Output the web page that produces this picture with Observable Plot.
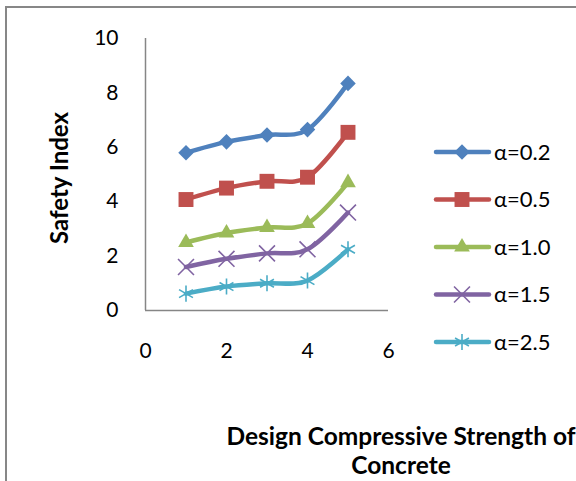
<!DOCTYPE html>
<html><head><meta charset="utf-8">
<script src="https://cdn.jsdelivr.net/npm/d3@7"></script>
<script src="https://cdn.jsdelivr.net/npm/@observablehq/plot@0.6"></script>
<style>
body{margin:0;background:#fff}
#chart{position:relative;width:576px;height:481px;overflow:hidden}
#chart svg [aria-label^="x-axis"], #chart svg [aria-label^="y-axis"],
#chart svg [aria-label^="x-axis"] text, #chart svg [aria-label^="y-axis"] text {font-size:21px !important; fill:#000}
</style>
</head><body><div id="chart"></div>
<script>
// ---- data ----
const xs = [1, 2, 3, 4, 5];
const seriesNames = ["α=0.2", "α=0.5", "α=1.0", "α=1.5", "α=2.5"];
const alpha02 = [5.8, 6.2, 6.45, 6.65, 8.35];
const alpha05 = [4.08, 4.5, 4.75, 4.9, 6.55];
const alpha10 = [2.5, 2.85, 3.05, 3.2, 4.7];
const alpha15 = [1.6, 1.9, 2.1, 2.25, 3.6];
const alpha25 = [0.62, 0.88, 1.0, 1.1, 2.25];
const xTicks = [0, 2, 4, 6];
const yTicks = [0, 2, 4, 6, 8, 10];
const xTitle = ["Design Compressive Strength of", "Concrete"];
const yTitle = "Safety Index";

// ---- styles ----
const colors = ["#4F81BD", "#C0504D", "#9BBB59", "#8064A2", "#4BACC6"];
const symbolNames = ["diamond2", "square2", "triangle2", "times", "asterisk"];
const d3Symbols = [d3.symbolDiamond2, d3.symbolSquare2, d3.symbolTriangle2, d3.symbolTimes, d3.symbolAsterisk];
const radii = [7, 9.5, 7.5, 7.3, 7.6];
const filled = [true, true, true, false, false];
const FONT = "Lato, 'Liberation Sans', sans-serif";

const allSeries = [alpha02, alpha05, alpha10, alpha15, alpha25];
const data = [];
allSeries.forEach((vals, i) => vals.forEach((v, j) => data.push({x: xs[j], y: v, s: seriesNames[i]})));

const marks = [
  Plot.ruleX([0], {y1: 0, y2: 10, stroke: "#868686", strokeWidth: 1.5}),
  Plot.ruleY([0], {x1: 0, x2: 6, stroke: "#868686", strokeWidth: 1.5}),
  Plot.line(data, {x: "x", y: "y", z: "s", stroke: "s", curve: "cardinal", strokeWidth: 4.5, strokeLinecap: "round", strokeLinejoin: "round"})
];
seriesNames.forEach((name, i) => {
  const sub = data.filter(d => d.s === name);
  marks.push(Plot.dot(sub, filled[i]
    ? {x: "x", y: "y", symbol: () => symbolNames[i], r: radii[i], fill: colors[i], stroke: "none"}
    : {x: "x", y: "y", symbol: () => symbolNames[i], r: radii[i], stroke: colors[i], strokeWidth: 1.6, fill: "none"}));
});

const plot = Plot.plot({
  width: 576,
  height: 481,
  marginLeft: 145,
  marginRight: 188,
  marginTop: 38,
  marginBottom: 171,
  style: {fontFamily: FONT, fontSize: "21px", color: "#000", background: "#fff", overflow: "visible"},
  x: {domain: [0, 6], ticks: xTicks, tickFormat: d => String(d), tickSize: 0, tickPadding: 33, label: null},
  y: {domain: [0, 10], ticks: yTicks, tickFormat: d => String(d), tickSize: 0, tickPadding: 27, label: null},
  color: {domain: seriesNames, range: colors},
  symbol: {domain: symbolNames, range: symbolNames},
  marks
});

const svg = d3.select(plot);

// chart-area border
svg.insert("rect", ":first-child")
  .attr("x", 6).attr("y", 7).attr("width", 700).attr("height", 700)
  .attr("fill", "#fff").attr("stroke", "#878787").attr("stroke-width", 2);

// axis titles
svg.append("text")
  .attr("transform", "translate(68,178) rotate(-90)")
  .attr("text-anchor", "middle")
  .attr("font-family", FONT).attr("font-weight", "bold").attr("font-size", 24)
  .attr("fill", "#000")
  .text(yTitle);
xTitle.forEach((t, k) => {
  svg.append("text")
    .attr("x", 401).attr("y", 445 + k * 29)
    .attr("text-anchor", "middle")
    .attr("font-family", FONT).attr("font-weight", "bold").attr("font-size", 24.5)
    .attr("fill", "#000")
    .text(t);
});

// legend
const legendY = [152, 199.5, 247, 294.5, 342];
seriesNames.forEach((name, i) => {
  const g = svg.append("g").attr("transform", `translate(0,${legendY[i]})`);
  g.append("line").attr("x1", 436).attr("x2", 489).attr("y1", 0).attr("y2", 0)
    .attr("stroke", colors[i]).attr("stroke-width", 4.5).attr("stroke-linecap", "round");
  const path = d3.symbol(d3Symbols[i], Math.PI * radii[i] * radii[i])();
  g.append("path").attr("transform", "translate(462,0)").attr("d", path)
    .attr("fill", filled[i] ? colors[i] : "none")
    .attr("stroke", filled[i] ? "none" : colors[i])
    .attr("stroke-width", filled[i] ? 0 : 1.6);
  g.append("text").attr("x", 494).attr("y", 0).attr("dy", "0.35em")
    .attr("text-anchor", "start")
    .attr("font-family", FONT).attr("font-size", 22).attr("fill", "#000")
    .text(name);
});

document.getElementById("chart").appendChild(plot);
</script>
</body></html>
